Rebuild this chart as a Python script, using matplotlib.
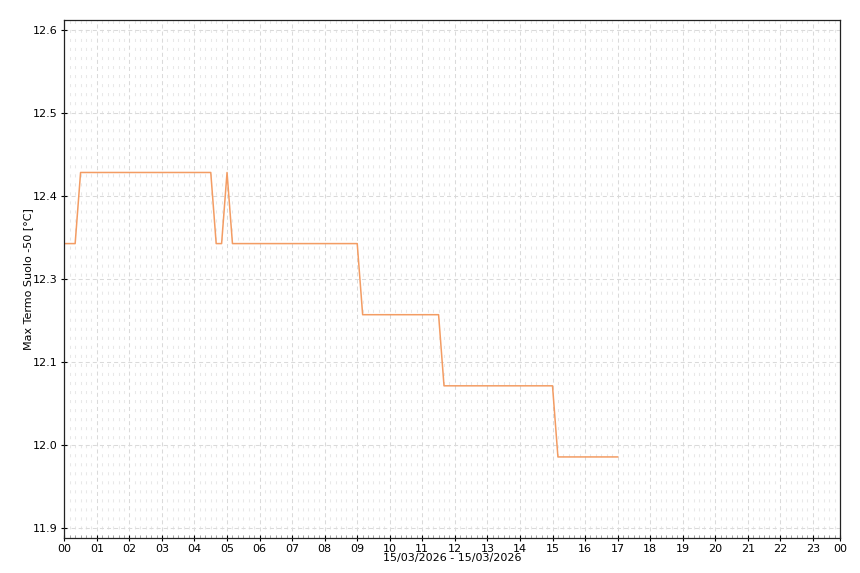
import numpy as np
import matplotlib
matplotlib.use('Agg')
import matplotlib.pyplot as plt

# data (10 minute samples, only the break points kept)
sample_times = ["00:00", "00:20", "00:30", "04:30", "04:40", "04:50", "05:00", "05:10",
                "09:00", "09:10", "11:30", "11:40", "15:00", "15:10", "17:00"]
max_temp = [12.3, 12.3, 12.4, 12.4, 12.3, 12.3, 12.4, 12.3,
            12.3, 12.2, 12.2, 12.1, 12.1, 12.0, 12.0]

hour_labels = ["%02d" % h for h in range(24)] + ["00"]
y_labels = ["11.9", "12.0", "12.1", "12.3", "12.4", "12.5", "12.6"]

x_label = "15/03/2026 - 15/03/2026"
y_label = "Max Termo Suolo -50 [°C]"

# convert hh:mm into hours
hours = [int(t[:2]) + int(t[3:]) / 60 for t in sample_times]

plt.rcParams['font.family'] = 'DejaVu Sans'
plt.rcParams['lines.scale_dashes'] = False
fig = plt.figure(figsize=(8.6, 5.73), dpi=100)
ax = fig.add_axes([64.3 / 860, 1 - 538 / 573, (840 - 64.3) / 860, (538 - 20.3) / 573])

ax.plot(hours, max_temp, color='#f39c63', linewidth=1.1)

x_end = 143 / 6   # last 10 minute slot of the day
ax.set_xlim(0, x_end)
ax.set_xticks(list(range(24)) + [x_end])
ax.set_xticklabels(hour_labels, fontsize=8)
ax.set_xticks(np.arange(0, 144) / 6, minor=True)

y_ticks = np.linspace(11.9, 12.6, 7)
ax.set_ylim(11.886, 12.614)
ax.set_yticks(y_ticks)
ax.set_yticklabels(y_labels, fontsize=8)

ax.tick_params(axis='both', which='major', direction='inout', length=5, width=0.8, pad=2)
ax.tick_params(axis='x', which='minor', direction='in', length=2, width=0.6, color='#999999')

# grid: light dashed lines
ax.grid(True, which='major', axis='both', color='#dadada', linestyle=(0, (2.9, 2.2)), linewidth=0.75)
ax.grid(True, which='minor', axis='x', color='#e8e8e8', linestyle=(0, (2.2, 4.3)), linewidth=0.75)
ax.set_axisbelow(True)

for s in ax.spines.values():
    s.set_linewidth(0.9)
    s.set_color('#222222')

ax.set_xlabel(x_label, fontsize=8, labelpad=-1)
ax.set_ylabel(y_label, fontsize=8, labelpad=0)

fig.savefig('out.png', dpi=100)
